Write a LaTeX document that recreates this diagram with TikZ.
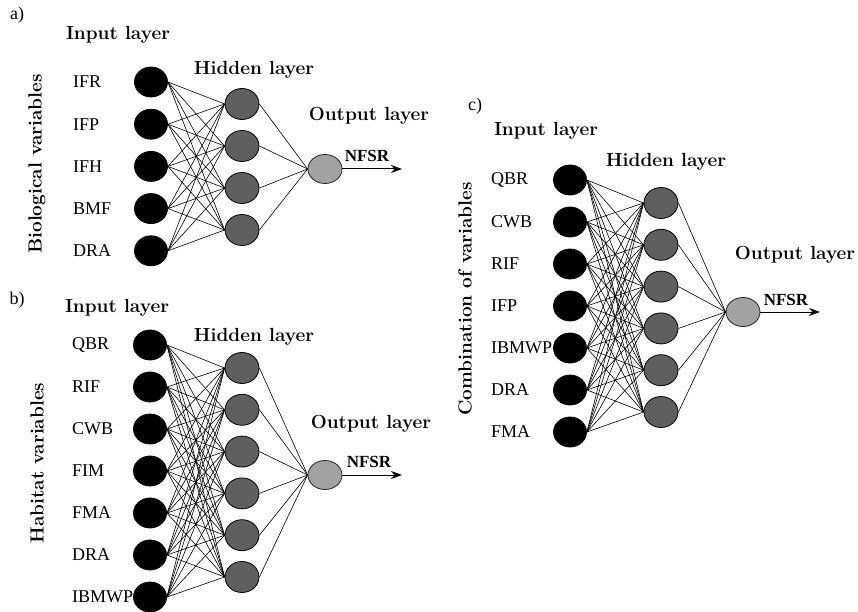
\documentclass[tikz,border=0pt]{standalone}
\usepackage{fontspec}
\newfontfamily\tnr{Liberation Serif}
\usetikzlibrary{shapes.geometric,arrows.meta}
\definecolor{hidgray}{HTML}{5F5F5F}
\definecolor{outgray}{HTML}{A2A2A2}
\begin{document}
\begin{tikzpicture}[x=1pt,y=-1pt,
  innode/.style={ellipse,draw=black,fill=black,line width=0.8pt,minimum width=33pt,minimum height=30pt,inner sep=0pt},
  hidnode/.style={ellipse,draw=black,fill=hidgray,line width=0.8pt,minimum width=34pt,minimum height=31pt,inner sep=0pt},
  outnode/.style={ellipse,draw=black!85,fill=outgray,line width=0.8pt,minimum width=34pt,minimum height=29pt,inner sep=0pt},
  head/.style={font=\fontsize{19}{22}\selectfont\bfseries,inner sep=0pt},
  varlbl/.style={font=\tnr\fontsize{18}{20}\selectfont,anchor=west,inner sep=0pt},
  panel/.style={font=\tnr\fontsize{18}{20}\selectfont,inner sep=0pt},
  nfsr/.style={font=\tnr\bfseries\fontsize{17}{20}\selectfont,inner sep=0pt},
  conn/.style={draw=black,line width=0.6pt},
  outarrow/.style={draw=black,line width=1pt,-{Stealth[length=11pt,width=8pt]}}]

\useasboundingbox (0,0) rectangle (858,612);

% ---------------- a) biological variables ----------------
\node[panel] (pa) at (17,15) {a)};
\node[head] (ain) at (118,35) {Input layer};
\node[head] (ahid) at (254,70) {Hidden layer};
\node[head] (aout) at (369,116) {Output layer};
\node[head,rotate=90] (avar) at (37,164) {Biological variables};
\foreach \lbl [count=\i] in {IFR,IFP,IFH,BMF,DRA} {
  \node[innode] (ai\i) at (151,{82+42.2*(\i-1)}) {};
  \node[varlbl] (al\i) at (73,{82+42.2*(\i-1)}) {\lbl};
}
\foreach \j in {1,...,4}
  \node[hidnode] (ah\j) at (242,{104+42*(\j-1)}) {};
\node[outnode] (ao) at (325,169) {};
\foreach \i in {1,...,5}
  \foreach \j in {1,...,4}
    \draw[conn] (ai\i.east) -- (ah\j.west);
\foreach \j in {1,...,4}
  \draw[conn] (ah\j.east) -- (ao.west);
\coordinate (aend) at (402,169);
\draw[outarrow] (ao.east) -- (aend);
\node[nfsr] (an) at (367,156) {NFSR};

% ---------------- b) habitat variables ----------------
\node[panel] (pb) at (17,300) {b)};
\node[head] (bin) at (117,308) {Input layer};
\node[head] (bhid) at (254,337) {Hidden layer};
\node[head] (bout) at (371,424) {Output layer};
\node[head,rotate=90] (bvar) at (37,463) {Habitat variables};
\foreach \lbl [count=\i] in {QBR,RIF,CWB,FIM,FMA,DRA,IBMWP} {
  \node[innode] (bi\i) at (150,{345+42*(\i-1)}) {};
  \node[varlbl] (bl\i) at (72,{345+42*(\i-1)}) {\lbl};
}
\foreach \j in {1,...,6}
  \node[hidnode] (bh\j) at (242,{368+41.8*(\j-1)}) {};
\node[outnode] (bo) at (325,475) {};
\foreach \i in {1,...,7}
  \foreach \j in {1,...,6}
    \draw[conn] (bi\i.east) -- (bh\j.west);
\foreach \j in {1,...,6}
  \draw[conn] (bh\j.east) -- (bo.west);
\coordinate (bend) at (402,475);
\draw[outarrow] (bo.east) -- (bend);
\node[nfsr] (bn) at (369,462) {NFSR};

% ---------------- c) combination of variables ----------------
\node[panel] (pc) at (475,106) {c)};
\node[head] (cin) at (546,131) {Input layer};
\node[head] (chid) at (666,162) {Hidden layer};
\node[head] (cout) at (795,255) {Output layer};
\node[head,rotate=90] (cvar) at (465,299) {Combination of variables};
\foreach \lbl [count=\i] in {QBR,CWB,RIF,IFP,IBMWP,DRA,FMA} {
  \node[innode] (ci\i) at (570,{180+42*(\i-1)}) {};
  \node[varlbl] (cl\i) at (491,{180+42*(\i-1)}) {\lbl};
}
\foreach \j in {1,...,6}
  \node[hidnode] (ch\j) at (661,{203+41.8*(\j-1)}) {};
\node[outnode] (co) at (743,312) {};
\foreach \i in {1,...,7}
  \foreach \j in {1,...,6}
    \draw[conn] (ci\i.east) -- (ch\j.west);
\foreach \j in {1,...,6}
  \draw[conn] (ch\j.east) -- (co.west);
\coordinate (cend) at (820,312);
\draw[outarrow] (co.east) -- (cend);
\node[nfsr] (cn) at (786,300) {NFSR};

\end{tikzpicture}
\end{document}
